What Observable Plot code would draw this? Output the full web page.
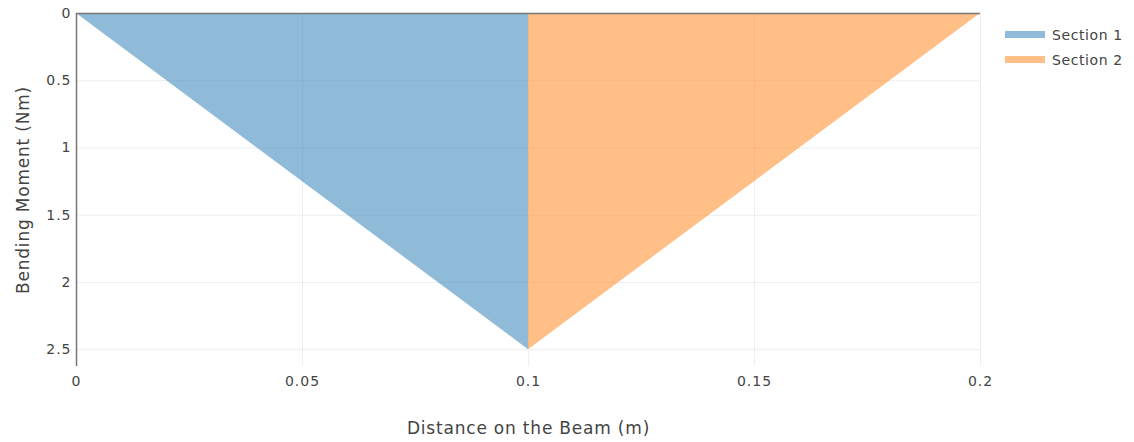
<!DOCTYPE html>
<html>
<head>
<meta charset="utf-8">
<script src="https://cdn.jsdelivr.net/npm/d3@7"></script>
<script src="https://cdn.jsdelivr.net/npm/@observablehq/plot@0.6"></script>
<style>
  body { margin: 0; background: #fff; font-family: "DejaVu Sans", Verdana, sans-serif; }
  #wrap { position: relative; width: 1134px; height: 442px; }
  #legend { position: absolute; left: 1005px; top: 22px; font-size: 14px; color: #444; letter-spacing: 0.6px; }
  .item { display: flex; align-items: center; height: 25px; }
  .sw { width: 40px; height: 7px; margin-right: 7px; }
</style>
</head>
<body>
<div id="wrap"></div>
<script>
const sections = ["Section 1", "Section 2"];
const colors = ["#1f77b4", "#ff7f0e"];
const section1X = [0, 0.1];
const section1M = [0, 2.5];
const section2X = [0.1, 0.2];
const section2M = [2.5, 0];
const xTicks = [0, 0.05, 0.1, 0.15, 0.2];
const yTicks = [0, 0.5, 1, 1.5, 2, 2.5];

const data = [
  ...section1X.map((x, i) => ({x, m: section1M[i], s: sections[0]})),
  ...section2X.map((x, i) => ({x, m: section2M[i], s: sections[1]}))
];

const chart = Plot.plot({
  width: 1134,
  height: 442,
  marginLeft: 76,
  marginRight: 154,
  marginTop: 13,
  marginBottom: 76,
  style: {fontFamily: "'DejaVu Sans', Verdana, sans-serif", fontSize: "13px", color: "#444", background: "#fff"},
  x: {domain: [0, 0.2], ticks: xTicks, tickFormat: d => String(d)},
  y: {domain: [0, 2.625], reverse: true, ticks: yTicks, tickFormat: d => String(d)},
  color: {domain: sections, range: colors},
  marks: [
    Plot.gridX(xTicks.filter(d => d !== 0), {stroke: "#eee", strokeOpacity: 1}),
    Plot.gridY(yTicks.filter(d => d !== 0), {stroke: "#eee", strokeOpacity: 1}),
    Plot.areaY(data, {x: "x", y1: 0, y2: "m", z: "s", fill: "s", fillOpacity: 0.5}),
    Plot.ruleY([0], {stroke: "#777", strokeWidth: 1.5}),
    Plot.ruleX([0], {stroke: "#777", strokeWidth: 1.5}),
    Plot.axisX({ticks: xTicks, tickSize: 0, tickPadding: 10, tickFormat: d => String(d), fontSize: 14,
      label: "Distance on the Beam (m)", labelAnchor: "center", labelArrow: "none", labelOffset: 67}),
    Plot.axisY({ticks: yTicks, tickSize: 0, tickPadding: 5, tickFormat: d => String(d), fontSize: 14,
      label: "Bending Moment (Nm)", labelAnchor: "center", labelArrow: "none", labelOffset: 60})
  ]
});

const wrap = document.getElementById("wrap");
wrap.appendChild(chart);
d3.select(chart).selectAll("[aria-label='x-axis tick label'] text, [aria-label='y-axis tick label'] text")
  .style("letter-spacing", "1px");
d3.select(chart).selectAll("[aria-label='x-axis label'] text, [aria-label='y-axis label'] text")
  .style("font-size", "17px").style("letter-spacing", "0.8px");

const legend = document.createElement("div");
legend.id = "legend";
sections.forEach((s, i) => {
  const it = document.createElement("div");
  it.className = "item";
  const sw = document.createElement("div");
  sw.className = "sw";
  sw.style.background = colors[i];
  sw.style.opacity = 0.5;
  const t = document.createElement("span");
  t.textContent = s;
  it.appendChild(sw); it.appendChild(t);
  legend.appendChild(it);
});
wrap.appendChild(legend);
</script>
</body>
</html>
